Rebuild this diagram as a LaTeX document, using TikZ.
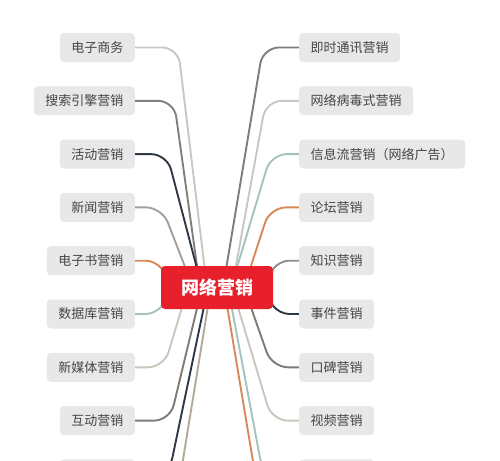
\documentclass[tikz,border=0pt]{standalone}
\usepackage{fontspec}
\setmainfont{Noto Sans CJK SC}
\usetikzlibrary{positioning,calc,backgrounds}

\definecolor{boxgray}{HTML}{E8E8E8}
\definecolor{txtgray}{HTML}{454545}
\definecolor{hubred}{HTML}{E8202C}
\definecolor{lnLight}{HTML}{C8C8C3}
\definecolor{lnMid}{HTML}{7F7F7C}
\definecolor{lnNavy}{HTML}{2F3845}
\definecolor{lnWarm}{HTML}{A59F97}
\definecolor{lnOrange}{HTML}{D9885A}
\definecolor{lnBlue}{HTML}{A8BFBD}
\definecolor{lnTeal}{HTML}{A3C3BE}
\definecolor{lnBeige}{HTML}{CAC6BB}
\definecolor{lnDark}{HTML}{7E7B77}
\definecolor{lnKnow}{HTML}{8F8D89}
\definecolor{lnTan}{HTML}{B3AA9C}

\tikzset{
	topic/.style={fill=boxgray, text=txtgray, rounded corners=4pt,
		minimum height=29pt, inner xsep=11.5pt, inner ysep=0pt,
		font=\fontsize{13}{15}\selectfont},
	hub/.style={fill=hubred, text=white, rounded corners=4pt,
		minimum width=112pt, minimum height=43pt,
		font=\fontsize{18}{20}\selectfont\bfseries},
	conn/.style={draw=#1, line width=1.9pt, rounded corners=16pt},
	near/.style={rounded corners=10pt}
}

\begin{document}
\begin{tikzpicture}[x=1pt, y=-1pt]
	\useasboundingbox (0,0) rectangle (500,460);
	\clip (0,0) rectangle (500,460);
	
	% central topic
	\node[hub] (netmkt) at (217,287.5) {网络营销};
	
	% left topics
	\node[topic, anchor=east] (ecommerce) at (135,47.5) {电子商务};
	\node[topic, anchor=east] (searchengine) at (135,100.8) {搜索引擎营销};
	\node[topic, anchor=east] (activity) at (135,154.1) {活动营销};
	\node[topic, anchor=east] (news) at (135,207.4) {新闻营销};
	\node[topic, anchor=east] (ebook) at (135,260.7) {电子书营销};
	\node[topic, anchor=east] (database) at (135,314) {数据库营销};
	\node[topic, anchor=east] (newmedia) at (135,367.3) {新媒体营销};
	\node[topic, anchor=east] (interactive) at (135,420.6) {互动营销};
	\node[topic, anchor=east, minimum width=75pt] (leftnext) at (135,473.9) {};
	\coordinate (leftlast) at (135,527.2);
	
	% right topics
	\node[topic, anchor=west] (instantmsg) at (299,47.5) {即时通讯营销};
	\node[topic, anchor=west] (viral) at (299,100.8) {网络病毒式营销};
	\node[topic, anchor=west] (infostream) at (299,154.1) {信息流营销（网络广告）};
	\node[topic, anchor=west] (forum) at (299,207.4) {论坛营销};
	\node[topic, anchor=west] (knowledge) at (299,260.7) {知识营销};
	\node[topic, anchor=west] (eventmkt) at (299,314) {事件营销};
	\node[topic, anchor=west] (wordofmouth) at (299,367.3) {口碑营销};
	\node[topic, anchor=west] (video) at (299,420.6) {视频营销};
	\node[topic, anchor=west, minimum width=75pt] (rightnext) at (299,473.9) {};
	\coordinate (rightlast) at (299,527.2);
	
	% branches behind the central topic
	\begin{scope}[on background layer]
		\clip (0,0) rectangle (500,460);
		% left branches
		\draw[conn=lnLight] (ecommerce.east) -- ++(43,0) -- ($(netmkt.center)+(-10,0)$);
		\draw[conn=lnMid] (searchengine.east) -- ++(39,0) -- ($(netmkt.center)+(-17,0)$);
		\draw[conn=lnNavy] (activity.east) -- ++(32,0) -- ($(netmkt.center)+(-15,0)$);
		\draw[conn=lnWarm] (news.east) -- ++(27,0) -- ($(netmkt.center)+(-24,0)$);
		\draw[conn=lnOrange, near] (ebook.east) -- ++(21,0) -- ($(netmkt.center)+(-42,0)$);
		\draw[conn=lnBlue, near] (database.east) -- ++(21,0) -- ($(netmkt.center)+(-42,0)$);
		\draw[conn=lnBeige] (newmedia.east) -- ++(29,0) -- ($(netmkt.center)+(-29,0)$);
		\draw[conn=lnDark] (interactive.east) -- ++(35,0) -- ($(netmkt.center)+(-15,0)$);
		\draw[conn=lnNavy] (leftnext.east) -- ++(34,0) -- ($(netmkt.center)+(-9,0)$);
		\draw[conn=lnTan] (leftlast) -- ++(37,0) -- ($(netmkt.center)+(-6,0)$);
		% right branches
		\draw[conn=lnMid] (instantmsg.west) -- ++(-36,0) -- ($(netmkt.center)+(6,0)$);
		\draw[conn=lnLight] (viral.west) -- ++(-33,0) -- ($(netmkt.center)+(15,0)$);
		\draw[conn=lnTeal] (infostream.west) -- ++(-28,0) -- ($(netmkt.center)+(14,0)$);
		\draw[conn=lnOrange] (forum.west) -- ++(-29,0) -- ($(netmkt.center)+(27,0)$);
		\draw[conn=lnKnow, near] (knowledge.west) -- ++(-20,0) -- ($(netmkt.center)+(43,0)$);
		\draw[conn=lnNavy, near] (eventmkt.west) -- ++(-20,0) -- ($(netmkt.center)+(43,0)$);
		\draw[conn=lnDark] (wordofmouth.west) -- ++(-27,0) -- ($(netmkt.center)+(27,0)$);
		\draw[conn=lnBeige] (video.west) -- ++(-27,0) -- ($(netmkt.center)+(15,0)$);
		\draw[conn=lnTeal] (rightnext.west) -- ++(-36,0) -- ($(netmkt.center)+(11,0)$);
		\draw[conn=lnOrange] (rightlast) -- ++(-35,0) -- ($(netmkt.center)+(7,0)$);
	\end{scope}
\end{tikzpicture}
\end{document}
